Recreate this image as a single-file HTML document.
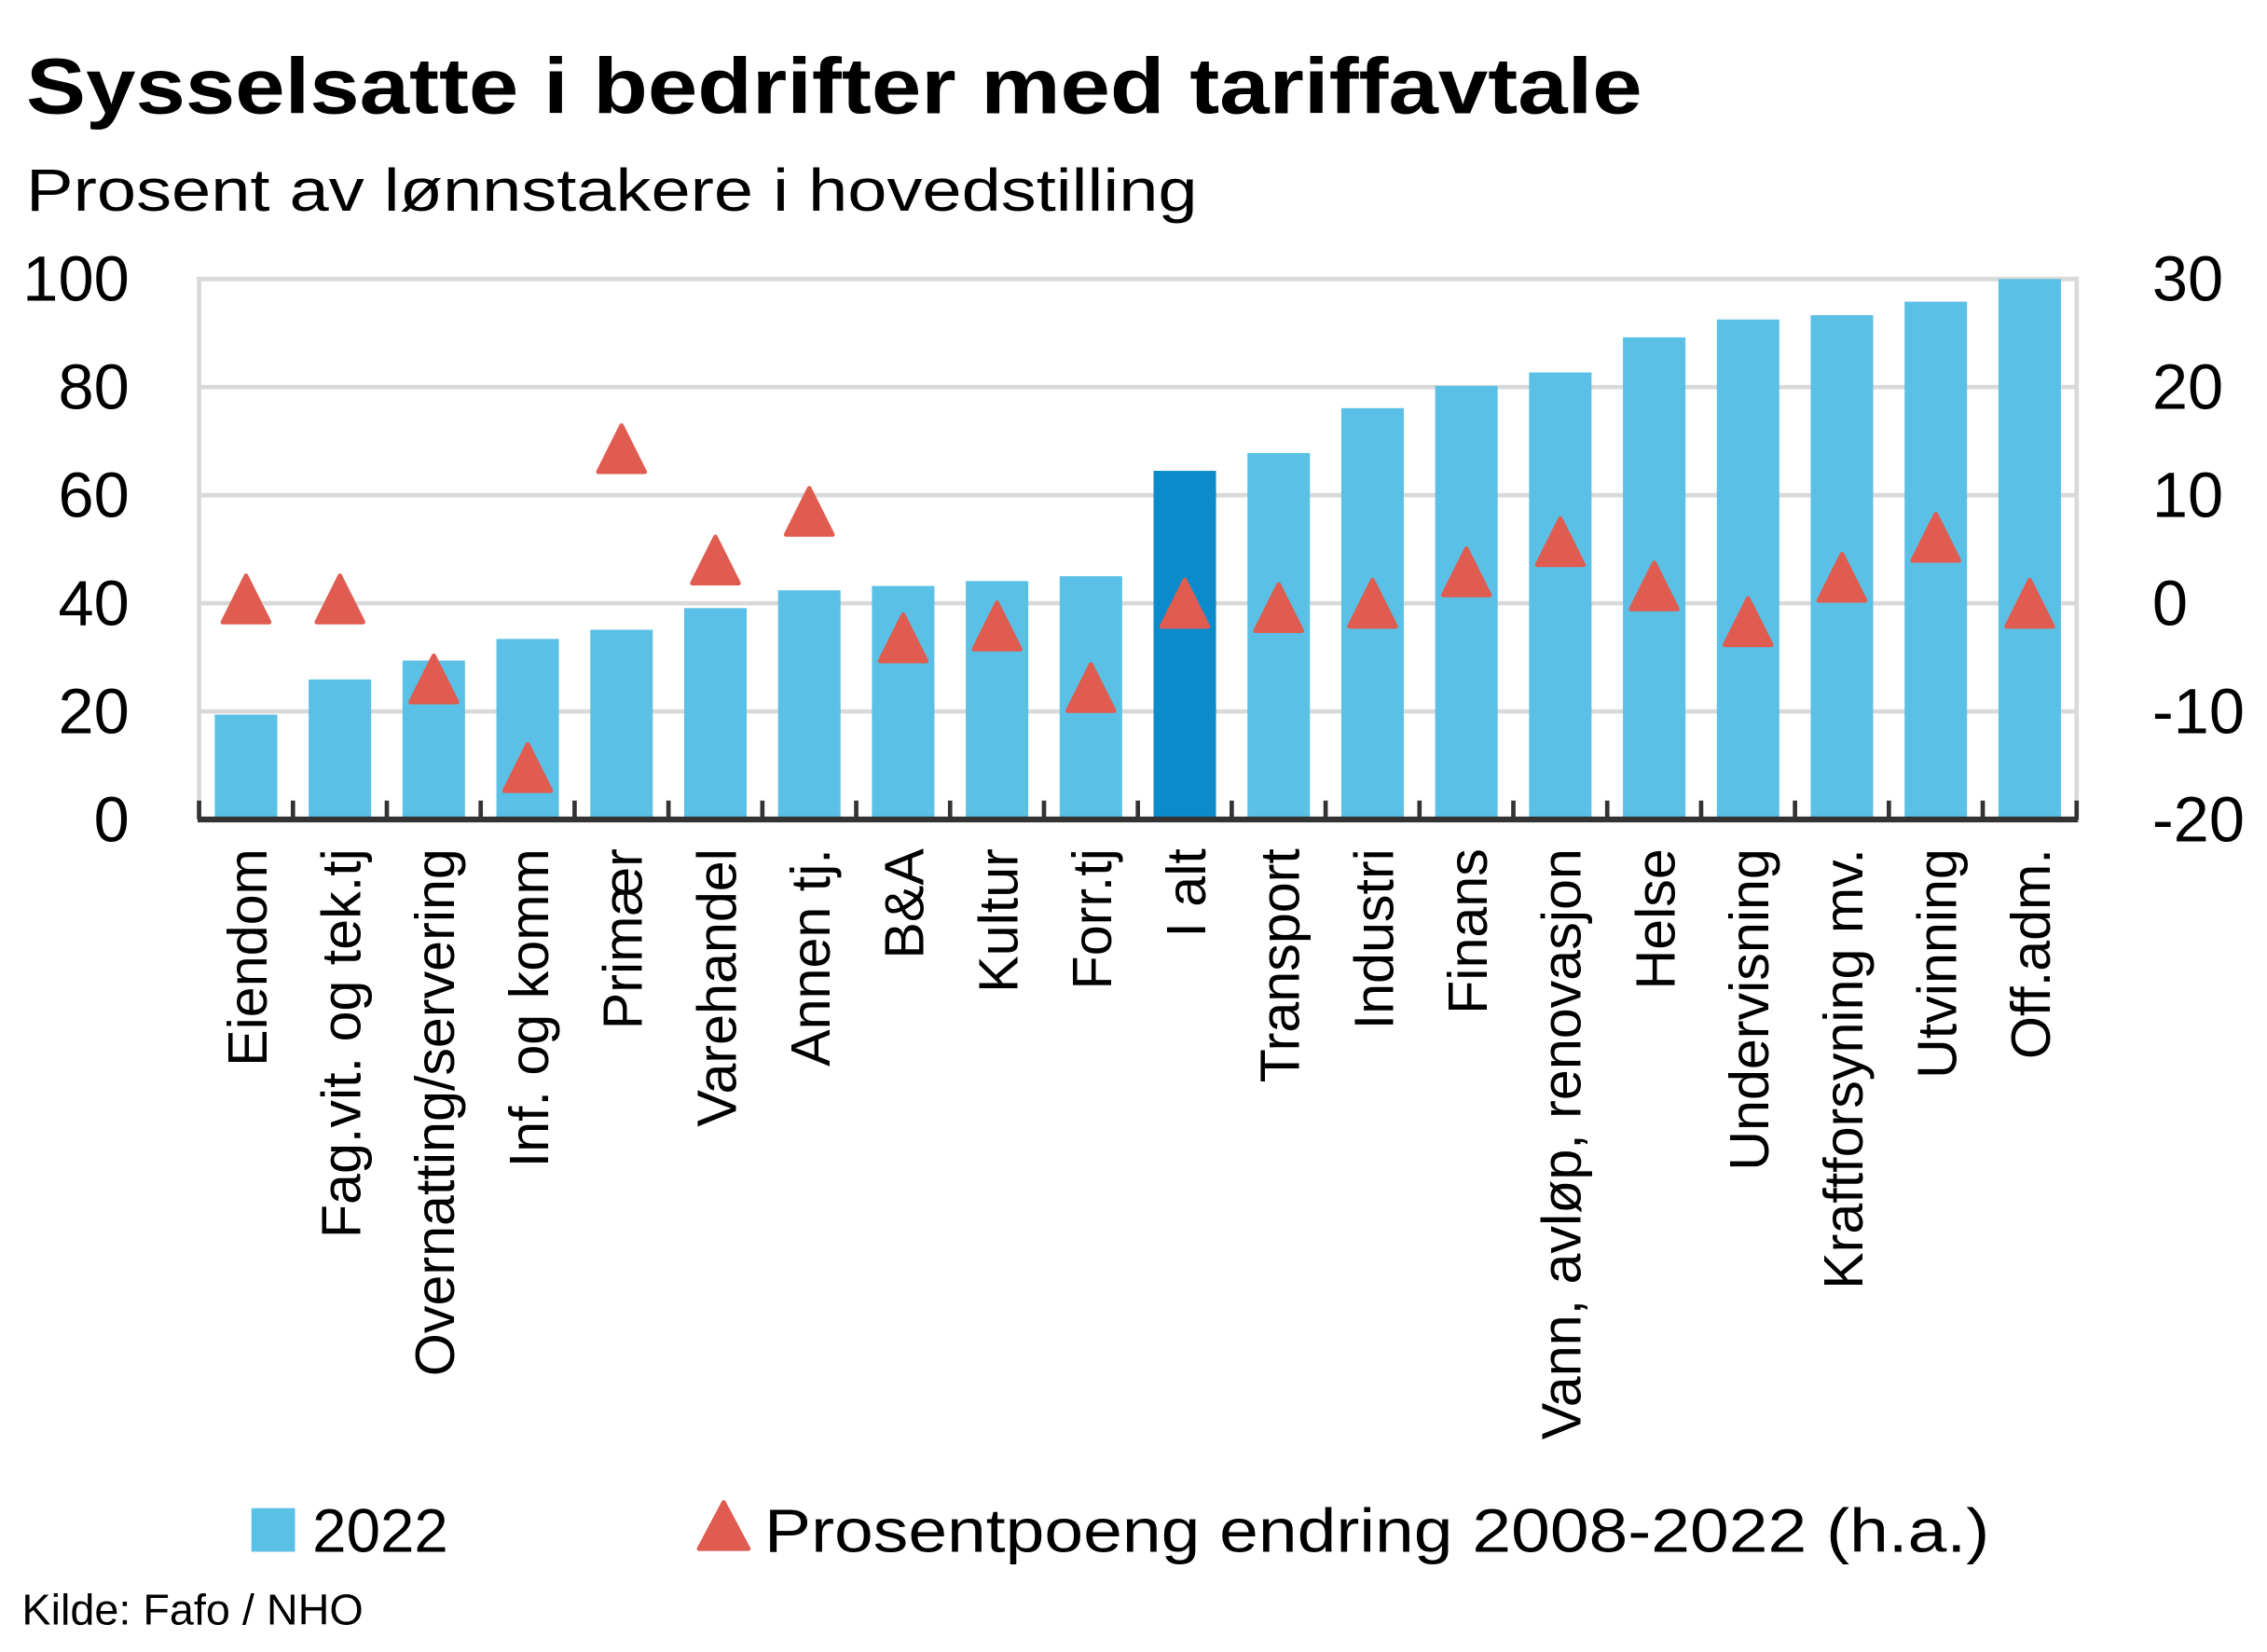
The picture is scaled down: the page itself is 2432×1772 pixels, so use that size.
<!DOCTYPE html>
<html><head><meta charset="utf-8"><style>
html,body{margin:0;padding:0;background:#fff}
svg{display:block;font-family:"Liberation Sans",sans-serif}
</style></head><body>
<svg id="chart" width="2432" height="1772" viewBox="0 0 1560 1137" preserveAspectRatio="none" xmlns="http://www.w3.org/2000/svg">
<text x="18" y="78" font-size="54" font-weight="bold" textLength="1112" lengthAdjust="spacingAndGlyphs">Sysselsatte i bedrifter med tariffavtale</text>
<text x="18" y="145" font-size="41" textLength="806" lengthAdjust="spacingAndGlyphs">Prosent av lønnstakere i hovedstilling</text>
<g id="grid"></g>
<g id="bars"></g>
<g id="axes"></g>
<g id="tris"></g>
<g id="labels"></g>
<g>
<rect x="173" y="1038" width="30" height="30" fill="#5bc0e5"/>
<text x="215" y="1068" font-size="42">2022</text>
<polygon points="498,1034 515,1066 481,1066" fill="#e05c50" stroke="#e05c50" stroke-width="3" stroke-linejoin="round"/>
<text x="526" y="1068" font-size="42" textLength="843" lengthAdjust="spacingAndGlyphs">Prosentpoeng endring 2008-2022 (h.a.)</text>
</g>
<text x="15" y="1118" font-size="30">Kilde: Fafo / NHO</text>
</svg>
<script>
const categories = ["Eiendom","Fag.vit. og tek.tj","Overnatting/servering","Inf. og komm","Primær","Varehandel","Annen tj.","B&A","Kultur","Forr.tj","I alt","Transport","Industri","Finans","Vann, avløp, renovasjon","Helse","Undervisning","Kraftforsyning mv.","Utvinning","Off.adm."];
const values2022 = [19.4,25.9,29.4,33.4,35.1,39.1,42.4,43.2,44.1,45.0,64.5,67.8,76.1,80.2,82.7,89.2,92.5,93.3,95.8,100];
const changeValues = [0.4,0.4,-7,-15.2,14.3,4.0,8.5,-3.2,-2.1,-7.8,0,-0.4,0,2.9,5.7,1.6,-1.7,2.4,6.1,0];
const leftTicks = ["0","20","40","60","80","100"];
const rightTicks = ["-20","-10","0","10","20","30"];
const highlightCategory = "I alt";

const NS="http://www.w3.org/2000/svg";
const X0=137,X1=1429,YT=192,YB=564;
const step=(X1-X0)/categories.length;
function xC(i){return X0+step*(i+0.5);}
function yL(v){return YB-(v/100)*(YB-YT);}
function yR(v){return YB-((v+20)/50)*(YB-YT);}
function mk(tag,attrs,parent){const e=document.createElementNS(NS,tag);for(const k in attrs)e.setAttribute(k,attrs[k]);parent.appendChild(e);return e;}
const grid=document.getElementById('grid'),bars=document.getElementById('bars'),axes=document.getElementById('axes'),tris=document.getElementById('tris'),labels=document.getElementById('labels');

leftTicks.forEach((t,i)=>{
  const v=Number(t);const y=yL(v);
  if(v>0){const l=mk('line',{x1:X0,x2:X1,y1:y,y2:y,stroke:'#d9d9d9','stroke-width':3},grid);
  
  }
  const tx=mk('text',{x:89,y:y+15,'font-size':44,'text-anchor':'end'},axes);tx.textContent=t;
  
  
});
rightTicks.forEach(t=>{
  const y=yR(Number(t));
  const tx=mk('text',{x:1481,y:y+15,'font-size':44},axes);tx.textContent=t;
  
  
});
const fr=mk('path',{d:`M${X0},${YB} V${YT} H${X1} V${YB}`,fill:'none',stroke:'#d9d9d9','stroke-width':3},grid);



categories.forEach((c,i)=>{
  const v=values2022[i];const cx=xC(i);const w=43;
  const r=mk('rect',{x:cx-w/2,y:yL(v),width:w,height:YB-yL(v),fill:c===highlightCategory?'#0a8ccc':'#5bc0e5'},bars);
  
  
  const tx=mk('text',{transform:`translate(${cx+14},${584}) rotate(-90)`,'font-size':38,'text-anchor':'end'},labels);
  tx.textContent=c;
  
  
});

const ax=mk('line',{x1:X0-1,x2:X1+1,y1:YB,y2:YB,stroke:'#333','stroke-width':4},axes);


for(let i=0;i<=categories.length;i++){
  const x=X0+step*i;
  const tk=mk('line',{x1:x,x2:x,y1:YB,y2:YB-13,stroke:'#333','stroke-width':3},axes);
  
  
}

changeValues.forEach((v,i)=>{
  const cx=xC(i),cy=yR(v);
  const p=mk('polygon',{points:`${cx},${cy-16} ${cx+16},${cy+16} ${cx-16},${cy+16}`,fill:'#e05c50',stroke:'#e05c50','stroke-width':3,'stroke-linejoin':'round'},tris);
  
  
});
</script>
</body></html>
